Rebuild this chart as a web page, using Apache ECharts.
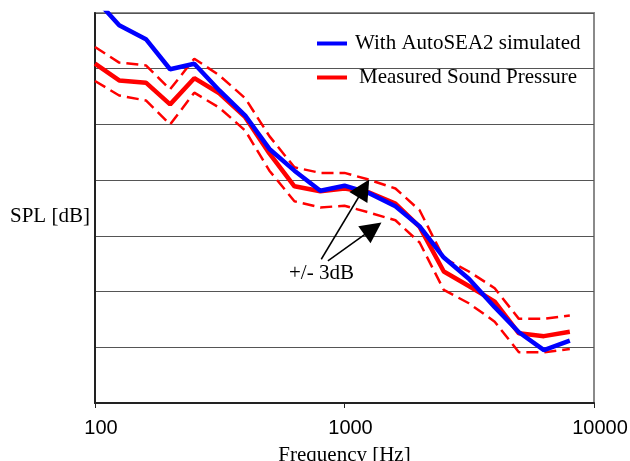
<!DOCTYPE html>
<html>
<head>
<meta charset="utf-8">
<style>
html,body{margin:0;padding:0;background:#fff;}
#chart{width:630px;height:461px;}
</style>
<script src="https://cdn.jsdelivr.net/npm/echarts@6/dist/echarts.min.js"></script>
</head>
<body>
<div id="chart"></div>
<script>
// Data (SPL in dB, arbitrary offset; y-axis labels are hidden)
const frequencies = [100,125,160,200,250,315,400,500,630,800,1000,1250,1600,2000,2500,3150,4000,5000,6300,8000];
const simulated   = [92.6,87.8,85.3,79.9,80.9,76.1,71.6,65.6,61.7,58.1,59.0,57.7,55.3,51.7,46.1,42.3,37.2,32.7,29.5,31.2];
const measured    = [80.9,77.9,77.5,73.6,78.3,75.6,71.3,64.8,58.9,58.0,58.5,57.8,55.8,51.6,43.6,41.0,38.2,32.5,32.0,32.8];
const upperBound  = [83.9,81.1,80.6,76.3,81.8,78.8,74.7,67.9,62.3,61.3,61.3,60.1,58.5,54.6,46.0,43.6,40.6,35.1,35.1,35.7];
const lowerBound  = [77.8,75.2,74.3,70.0,75.7,73.0,68.9,61.7,56.2,55.1,55.4,54.2,52.8,48.8,40.3,37.9,34.6,29.1,29.1,29.7];
const xTicks = [100, 1000, 10000];
const seriesNames = ['With AutoSEA2 simulated', 'Measured Sound Pressure'];
// annotation arrows in data coordinates [freq, dB]
const arrowA = [[807, 45.8], [1195, 58.5]];
const arrowB = [[858, 45.5], [1300, 51.3]];

const pairs = v => frequencies.map((f, i) => [f, v[i]]);
const serif = '"Liberation Serif", "Times New Roman", serif';
const sans = '"Liberation Sans", Arial, sans-serif';

const chart = echarts.init(document.getElementById('chart'), null, {renderer: 'canvas'});
chart.setOption({
  animation: false,
  backgroundColor: '#fff',
  grid: {left: 95, top: 13, width: 499, height: 390, show: true, borderColor: '#8a8a8a', borderWidth: 2,
         backgroundColor: 'transparent', containLabel: false, outerBoundsMode: 'none'},
  legend: {
    orient: 'vertical', left: 312, top: 28, itemWidth: 30, itemHeight: 4, itemGap: 13,
    selectedMode: false, icon: 'rect',
    textStyle: {fontFamily: serif, fontSize: 21, color: '#000'},
    data: [
      {name: seriesNames[0], textStyle: {padding: [0,0,0,3]}},
      {name: seriesNames[1], textStyle: {padding: [0,0,0,7]}}
    ]
  },
  xAxis: {
    type: 'log', logBase: 10, min: 100, max: 10000,
    axisLine: {show: true, onZero: false, lineStyle: {color: '#222', width: 2}},
    axisTick: {show: true, length: 5, lineStyle: {color: '#222', width: 1}},
    minorTick: {show: false},
    splitLine: {show: false},
    axisLabel: {fontFamily: sans, fontSize: 20, color: '#000', margin: 15, padding: [0,0,0,12],
      formatter: v => (xTicks.indexOf(Math.round(v)) >= 0 ? String(Math.round(v)) : '')},
    name: 'Frequency [Hz]', nameLocation: 'middle', nameGap: 42,
    nameTextStyle: {fontFamily: serif, fontSize: 21, color: '#000'}
  },
  yAxis: {
    type: 'value', min: 20, max: 90, interval: 10,
    axisLine: {show: true, lineStyle: {color: '#222', width: 2}},
    axisTick: {show: false},
    axisLabel: {show: false},
    splitLine: {show: true, lineStyle: {color: '#555', width: 1}}
  },
  graphic: [
    {type: 'text', left: 10, top: 206, style: {text: 'SPL [dB]', font: '21px ' + serif, fill: '#000'}},
    {type: 'text', left: 289, top: 263, style: {text: '+/- 3dB', font: '21px ' + serif, fill: '#000'}}
  ],
  series: [
    {name: 'upper', type: 'line', data: pairs(upperBound), symbol: 'none', silent: true,
     lineStyle: {color: '#ff0000', width: 2.5, type: [12, 6]}, z: 2},
    {name: 'lower', type: 'line', data: pairs(lowerBound), symbol: 'none', silent: true,
     lineStyle: {color: '#ff0000', width: 2.5, type: [12, 6]}, z: 2},
    {name: seriesNames[1], type: 'line', data: pairs(measured), symbol: 'none', itemStyle: {color: '#ff0000'},
     lineStyle: {color: '#ff0000', width: 4.5}, z: 3},
    {name: seriesNames[0], type: 'line', data: pairs(simulated), symbol: 'none', itemStyle: {color: '#0000ff'},
     lineStyle: {color: '#0000ff', width: 4.5}, z: 4,
     markLine: {
       silent: true, animation: false, symbol: ['none', 'triangle'], symbolSize: 21,
       label: {show: false},
       lineStyle: {color: '#000', width: 1.5, type: 'solid'},
       itemStyle: {color: '#000'},
       data: [
         [{coord: arrowA[0]}, {coord: arrowA[1]}],
         [{coord: arrowB[0]}, {coord: arrowB[1]}]
       ]
     }}
  ]
});
</script>
</body>
</html>
